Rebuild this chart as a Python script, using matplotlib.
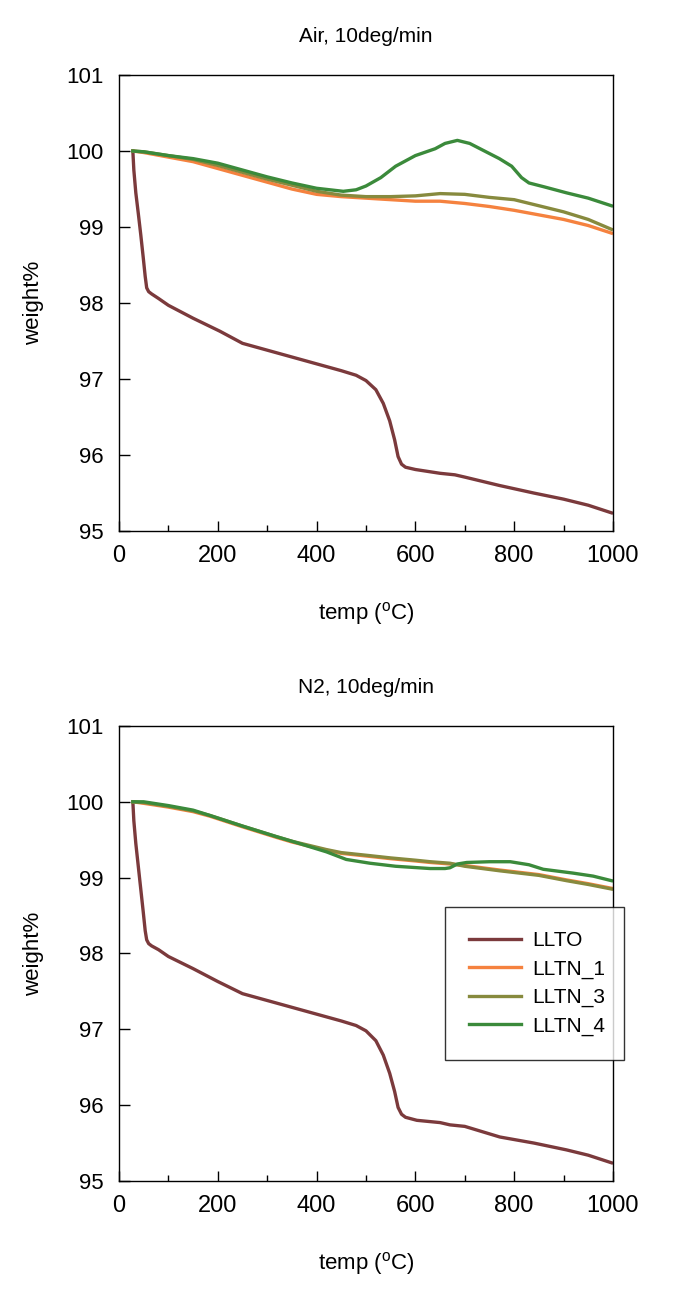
import matplotlib

matplotlib.use("Agg")
import matplotlib.pyplot as plt
from matplotlib.ticker import MultipleLocator

plt.rcParams["font.family"] = ["Liberation Sans", "DejaVu Sans"]
plt.rcParams["mathtext.fontset"] = "custom"
plt.rcParams["mathtext.rm"] = "Liberation Sans"

LABELS = ["LLTO", "LLTN_1", "LLTN_3", "LLTN_4"]
COLORS = ["#7b3a3c", "#f5823f", "#878a3e", "#3b8a3b"]
TITLES = ["Air, 10deg/min", "N2, 10deg/min"]

# ---- Air ----
air_llto_t = [28, 30, 34, 39, 44, 49, 53, 56, 60, 66, 80, 100, 150, 204, 250, 300, 350,
              400, 450, 480, 500, 520, 535, 548, 558, 565, 572, 580, 600, 650, 680,
              700, 770, 840, 900, 950, 997]
air_llto_w = [100.0, 99.75, 99.45, 99.18, 98.9, 98.6, 98.35, 98.2, 98.15, 98.12, 98.06,
              97.97, 97.8, 97.63, 97.47, 97.38, 97.29, 97.2, 97.11, 97.05, 96.98, 96.86,
              96.68, 96.45, 96.2, 95.98, 95.88, 95.84, 95.81, 95.76, 95.74, 95.71, 95.6,
              95.5, 95.42, 95.34, 95.24]
air_t = [28, 50, 100, 150, 200, 250, 300, 350, 400, 450, 500, 550, 600, 650, 700, 750,
         800, 850, 900, 950, 997]
air_n1_w = [100.0, 99.98, 99.92, 99.86, 99.77, 99.68, 99.59, 99.5, 99.43, 99.4, 99.38,
            99.36, 99.34, 99.34, 99.31, 99.27, 99.22, 99.16, 99.1, 99.02, 98.92]
air_n3_w = [100.0, 99.99, 99.94, 99.89, 99.81, 99.72, 99.63, 99.55, 99.47, 99.42, 99.4,
            99.4, 99.41, 99.44, 99.43, 99.39, 99.36, 99.28, 99.2, 99.1, 98.97]
air_n4_t = [28, 50, 100, 150, 200, 250, 300, 350, 400, 454, 480, 500, 530, 560, 600, 640,
            660, 685, 710, 740, 770, 795, 815, 830, 860, 906, 950, 997]
air_n4_w = [100.0, 99.99, 99.94, 99.9, 99.84, 99.75, 99.66, 99.58, 99.51, 99.47, 99.49,
            99.54, 99.65, 99.8, 99.94, 100.03, 100.1, 100.14, 100.1, 100.0, 99.9, 99.8,
            99.65, 99.58, 99.53, 99.45, 99.38, 99.28]

# ---- N2 ----
n2_llto_t = [28, 30, 34, 39, 44, 49, 53, 56, 60, 66, 80, 100, 150, 200, 250, 300, 350,
             400, 450, 480, 500, 520, 535, 548, 558, 565, 572, 580, 603, 650, 670,
             700, 771, 840, 906, 950, 997]
n2_llto_w = [100.0, 99.75, 99.45, 99.15, 98.85, 98.55, 98.3, 98.18, 98.13, 98.1, 98.05,
             97.96, 97.8, 97.63, 97.47, 97.38, 97.29, 97.2, 97.11, 97.05, 96.98, 96.85,
             96.66, 96.42, 96.18, 95.97, 95.88, 95.84, 95.8, 95.77, 95.74, 95.72, 95.58,
             95.5, 95.41, 95.34, 95.24]
n2_t = [28, 50, 100, 150, 184, 250, 319, 350, 420, 450, 508, 550, 600, 630, 670, 700,
        771, 850, 906, 950, 997]
n2_n1_w = [100.0, 99.98, 99.93, 99.87, 99.81, 99.67, 99.53, 99.47, 99.36, 99.32, 99.28,
           99.25, 99.22, 99.2, 99.18, 99.16, 99.1, 99.04, 98.97, 98.92, 98.86]
n2_n3_w = [100.0, 99.99, 99.94, 99.88, 99.82, 99.68, 99.54, 99.48, 99.37, 99.33, 99.29,
           99.26, 99.23, 99.21, 99.19, 99.15, 99.09, 99.03, 98.96, 98.91, 98.85]
n2_n4_t = [28, 50, 100, 150, 184, 250, 319, 350, 420, 460, 508, 560, 630, 660, 670, 685,
           704, 750, 792, 830, 859, 919, 960, 997]
n2_n4_w = [100.0, 100.0, 99.95, 99.89, 99.82, 99.68, 99.54, 99.48, 99.34, 99.24, 99.19,
           99.15, 99.12, 99.12, 99.13, 99.18, 99.2, 99.21, 99.21, 99.17, 99.11, 99.06,
           99.02, 98.96]

panels = [
    [(air_llto_t, air_llto_w), (air_t, air_n1_w), (air_t, air_n3_w), (air_n4_t, air_n4_w)],
    [(n2_llto_t, n2_llto_w), (n2_t, n2_n1_w), (n2_t, n2_n3_w), (n2_n4_t, n2_n4_w)],
]

fig = plt.figure(figsize=(6.86, 12.89), dpi=100)
ax_top = fig.add_axes([0.1735, 0.588, 0.720, 0.3538])
ax_bot = fig.add_axes([0.1735, 0.0838, 0.720, 0.3530])

for ax, series, title in zip([ax_top, ax_bot], panels, TITLES):
    for (t, w), lab, col in zip(series, LABELS, COLORS):
        ax.plot(t, w, color=col, lw=2.4, label=lab)
    ax.set_xlim(0, 1000)
    ax.set_ylim(95, 101)
    ax.xaxis.set_major_locator(MultipleLocator(200))
    ax.xaxis.set_minor_locator(MultipleLocator(100))
    ax.yaxis.set_major_locator(MultipleLocator(1))
    ax.tick_params(axis="x", which="major", direction="in", length=7, width=1,
                   labelsize=17, pad=10, top=False)
    ax.tick_params(axis="x", which="minor", direction="in", length=4, width=1, top=False)
    ax.tick_params(axis="y", which="major", direction="in", length=8, width=1,
                   labelsize=16, pad=11, right=False)
    for s in ax.spines.values():
        s.set_linewidth(1)
    ax.set_title(title, fontsize=15, pad=24)
    ax.set_xlabel(r"temp ($^{\rm o}$C)", fontsize=16, labelpad=24)
    ax.set_ylabel("weight%", fontsize=16, labelpad=16)

leg = ax_bot.legend(loc="upper left", bbox_to_anchor=(0.66, 0.273, 0.362, 0.329),
                    mode="expand", fontsize=15, frameon=True, fancybox=False,
                    edgecolor="black", handlelength=2.5, labelspacing=0.45,
                    borderpad=1.15, handletextpad=0.55, borderaxespad=0)
leg.get_frame().set_linewidth(1)

fig.savefig("out.png", dpi=100)
